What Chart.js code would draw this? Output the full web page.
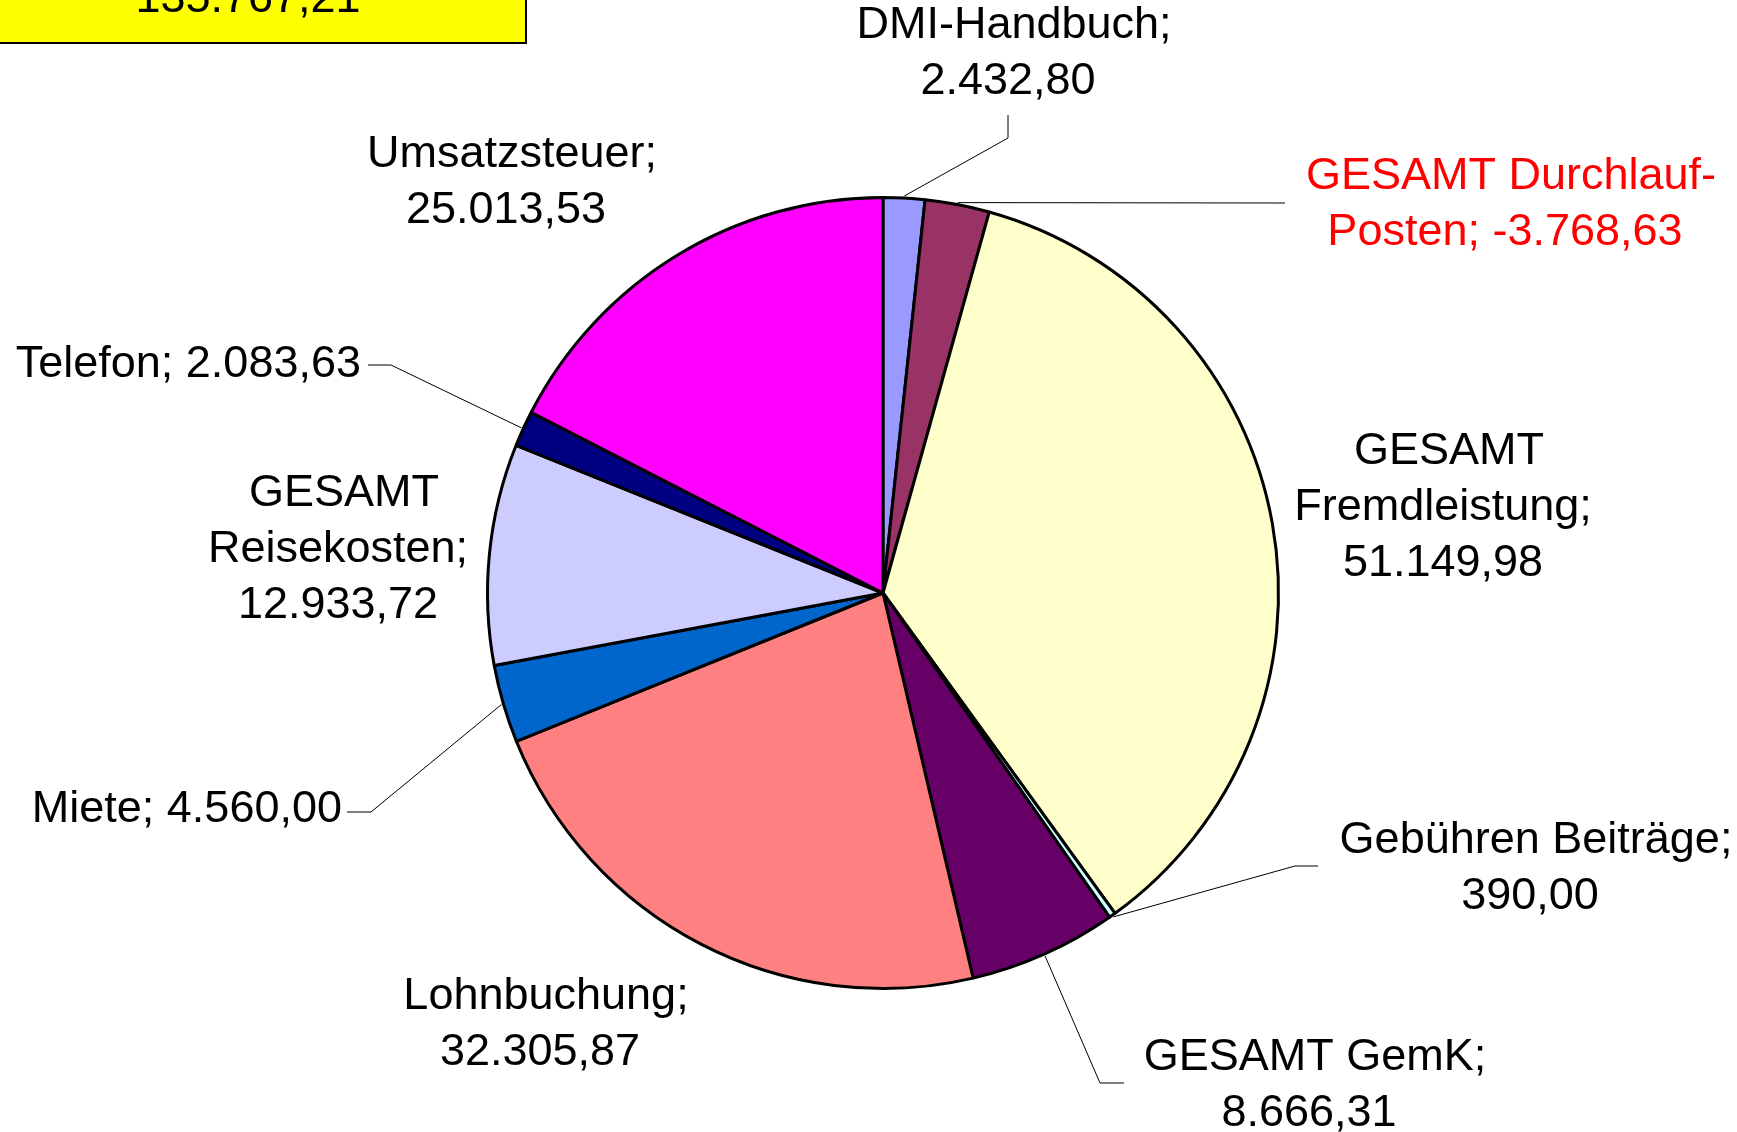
<!DOCTYPE html>
<html>
<head>
<meta charset="utf-8">
<script src="https://cdn.jsdelivr.net/npm/chart.js@4.4.1/dist/chart.umd.min.js"></script>
<style>
  html, body { margin: 0; padding: 0; background: #fff; overflow: hidden; }
  #chart { display: block; }
</style>
</head>
<body>
<canvas id="chart" width="1737" height="1132"></canvas>
<script>
const categories = ["DMI-Handbuch", "GESAMT Durchlauf-Posten", "GESAMT Fremdleistung", "Gebühren Beiträge",
  "GESAMT GemK", "Lohnbuchung", "Miete", "GESAMT Reisekosten", "Telefon", "Umsatzsteuer"];
const amounts = [2432.80, -3768.63, 51149.98, 390.00, 8666.31, 32305.87, 4560.00, 12933.72, 2083.63, 25013.53];
const sliceColors = ["#9999FF", "#993366", "#FFFFCC", "#CCFFFF", "#660066", "#FF8080", "#0066CC", "#CCCCFF", "#000080", "#FF00FF"];

// where each label sits, as px offsets from the pie centre (first line), plus leader elbows
const labelLayout = [
  { x: 125, y: -567, align: "center", wrap: 330, leader: [[125, -455], [125, -478]] },
  { x: 622, y: -416, align: "center", wrap: 420, leader: [[402, -390]] },
  { x: 560, y: -141, align: "center", wrap: 310 },
  { x: 647, y: 248, align: "center", wrap: 400, leader: [[412, 273], [435, 273]] },
  { x: 426, y: 465, align: "center", wrap: 350, leader: [[217, 490], [241, 490]] },
  { x: -343, y: 404, align: "center", wrap: 300 },
  { x: -541, y: 217, align: "right", wrap: 1000, leader: [[-512, 219], [-536, 219]] },
  { x: -545, y: -99, align: "center", wrap: 280 },
  { x: -522, y: -228, align: "right", wrap: 1000, leader: [[-492, -228], [-515, -228]] },
  { x: -377, y: -438, align: "center", wrap: 300 }
];

const FONT = "45px 'Liberation Sans', Arial, sans-serif";
const lineHeight = 56;
const firstLineShift = 6;

function fmtDe(v) {
  const parts = Math.abs(v).toFixed(2).split(".");
  const int = parts[0].replace(/\B(?=(\d{3})+(?!\d))/g, ".");
  return (v < 0 ? "-" : "") + int + "," + parts[1];
}

function wrapText(ctx, text, maxW) {
  const parts = text.match(/[^\s-]+-(?=\p{L})|\S+/gu);
  const lines = [];
  let cur = "";
  parts.forEach(p => {
    let next;
    if (cur === "") next = p;
    else if (/\p{L}-$/u.test(cur)) next = cur + p;
    else next = cur + " " + p;
    if (cur !== "" && ctx.measureText(next).width > maxW) {
      lines.push(cur);
      cur = p;
    } else {
      cur = next;
    }
  });
  if (cur) lines.push(cur);
  return lines;
}

const pieLabels = {
  id: "pieLabels",
  afterDatasetsDraw(chart) {
    const ctx = chart.ctx;
    const arcs = chart.getDatasetMeta(0).data;
    const cx = arcs[0].x, cy = arcs[0].y;
    ctx.save();
    ctx.font = FONT;
    arcs.forEach((arc, i) => {
      const lay = labelLayout[i];
      if (lay.leader) {
        const mid = (arc.startAngle + arc.endAngle) / 2;
        const r = arc.outerRadius + 2;
        ctx.beginPath();
        ctx.moveTo(cx + Math.cos(mid) * r, cy + Math.sin(mid) * r);
        lay.leader.forEach(p => ctx.lineTo(cx + p[0], cy + p[1]));
        ctx.strokeStyle = "#000";
        ctx.lineWidth = 1;
        ctx.stroke();
      }
      const lines = wrapText(ctx, categories[i] + "; " + fmtDe(amounts[i]), lay.wrap);
      ctx.fillStyle = amounts[i] < 0 ? "#FF0000" : "#000000";
      ctx.textAlign = lay.align;
      ctx.textBaseline = "middle";
      lines.forEach((ln, k) => {
        const dx = (lines.length > 1 && k === 0) ? firstLineShift : 0;
        ctx.fillText(ln, cx + lay.x + dx, cy + lay.y + k * lineHeight);
      });
    });

    // total box, top left (cut off by the page edge)
    const total = amounts.reduce((a, b) => a + b, 0);
    ctx.fillStyle = "#FFFF00";
    ctx.fillRect(-4, -80, 530, 123);
    ctx.strokeStyle = "#000";
    ctx.lineWidth = 2;
    ctx.strokeRect(-4, -80, 530, 123);
    ctx.fillStyle = "#000";
    ctx.textAlign = "center";
    ctx.textBaseline = "alphabetic";
    ctx.fillText(fmtDe(total), 248, 12);
    ctx.restore();
  }
};

new Chart(document.getElementById("chart"), {
  type: "pie",
  data: {
    labels: categories,
    datasets: [{
      data: amounts,
      backgroundColor: sliceColors,
      borderColor: "#000000",
      borderWidth: 3
    }]
  },
  options: {
    responsive: false,
    animation: false,
    devicePixelRatio: 1,
    layout: { padding: { left: 486, right: 457, top: 196, bottom: 142 } },
    plugins: {
      legend: { display: false },
      tooltip: { enabled: false }
    }
  },
  plugins: [pieLabels]
});
</script>
</body>
</html>
